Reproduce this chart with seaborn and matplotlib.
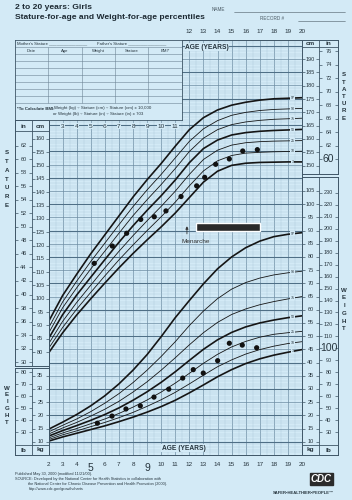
import matplotlib
matplotlib.use('Agg')
import numpy as np
import pandas as pd
import matplotlib.pyplot as plt
import seaborn as sns

# ======================================================================
# DATOS (CDC, 2 a 20 años, niñas)
# ======================================================================
ages = [2, 3, 4, 5, 6, 7, 8, 9, 10, 11, 12, 13, 14, 15, 16, 17, 18, 19, 20]
percentiles = ['3', '10', '25', '50', '75', '90', '97']

stature_p3 = [79.6, 87.2, 93.9, 100.0, 105.9, 111.6, 117.0, 122.1, 127.0, 132.2, 138.0, 143.8, 147.9, 150.1, 150.9, 151.2, 151.3, 151.4, 151.4]
stature_p10 = [81.3, 89.2, 96.1, 102.4, 108.6, 114.6, 120.2, 125.6, 130.8, 136.3, 142.4, 148.0, 151.8, 153.8, 154.7, 155.0, 155.2, 155.3, 155.4]
stature_p25 = [83.0, 91.5, 98.6, 105.1, 111.6, 117.8, 123.7, 129.3, 134.7, 140.4, 146.7, 152.3, 155.8, 157.7, 158.6, 159.0, 159.2, 159.3, 159.4]
stature_p50 = [85.0, 94.0, 101.4, 108.1, 114.7, 121.2, 127.4, 133.2, 138.7, 144.6, 151.1, 156.4, 159.6, 161.5, 162.4, 162.9, 163.2, 163.4, 163.6]
stature_p75 = [87.0, 96.6, 104.1, 111.2, 117.9, 124.6, 131.2, 137.2, 142.9, 148.9, 155.3, 160.3, 163.5, 165.4, 166.4, 167.0, 167.4, 167.6, 167.8]
stature_p90 = [89.0, 98.8, 106.6, 114.0, 120.9, 127.8, 134.6, 140.9, 146.7, 152.9, 159.1, 163.8, 166.9, 168.9, 170.0, 170.7, 171.1, 171.3, 171.5]
stature_p97 = [91.4, 101.2, 109.2, 116.9, 124.0, 131.1, 138.2, 144.7, 150.8, 157.3, 163.5, 168.0, 170.9, 172.7, 173.8, 174.6, 175.1, 175.3, 175.5]

weight_p3 = [10.2, 11.8, 13.2, 14.6, 16.0, 17.6, 19.3, 21.2, 23.3, 25.7, 28.5, 31.5, 34.6, 37.3, 39.6, 41.4, 42.8, 43.9, 44.9]
weight_p10 = [10.8, 12.6, 14.1, 15.7, 17.3, 19.1, 21.1, 23.4, 25.9, 28.7, 31.9, 35.2, 38.4, 41.0, 43.2, 44.9, 46.2, 47.2, 47.9]
weight_p25 = [11.4, 13.3, 15.0, 16.8, 18.6, 20.7, 23.1, 25.8, 28.8, 32.2, 35.9, 39.7, 43.1, 45.9, 48.0, 49.6, 50.7, 51.3, 51.8]
weight_p50 = [12.1, 14.2, 16.1, 18.1, 20.3, 22.8, 25.7, 28.9, 32.5, 36.5, 40.8, 45.0, 48.6, 51.4, 53.5, 55.0, 56.1, 57.0, 57.7]
weight_p75 = [12.9, 15.2, 17.3, 19.7, 22.3, 25.3, 28.8, 32.7, 37.1, 41.8, 46.7, 51.3, 55.2, 58.2, 60.3, 61.9, 63.1, 64.1, 65.0]
weight_p90 = [13.7, 16.2, 18.6, 21.4, 24.6, 28.2, 32.4, 37.1, 42.3, 47.9, 54.0, 59.5, 64.2, 67.8, 70.3, 72.0, 73.2, 74.0, 74.6]
weight_p97 = [14.7, 17.4, 20.3, 23.6, 27.4, 31.9, 37.1, 43.0, 49.8, 57.0, 63.5, 69.8, 75.5, 80.0, 83.5, 86.0, 87.7, 88.6, 89.2]

# Mediciones de la paciente
visit_age_stature = [5.25, 6.53, 7.55, 8.55, 9.51, 10.34, 11.41, 12.52, 13.09, 13.87, 14.84, 15.79, 16.83]
patient_stature = [113.3, 119.8, 124.6, 129.8, 130.8, 133.0, 138.4, 142.4, 145.6, 150.5, 152.5, 155.5, 156.0]
visit_age_weight = [5.47, 6.51, 7.50, 8.52, 9.49, 10.54, 11.53, 12.28, 12.99, 14.01, 14.84, 15.76, 16.78]
patient_weight = [17.0, 19.7, 22.4, 23.6, 26.9, 29.9, 34.1, 37.3, 36.0, 40.7, 47.3, 46.6, 45.6]

# Barra de menarquia (edad / estatura)
menarche_age = [12.5, 17.0]
menarche_cm = [125.6, 128.6]
menarche_arrow_age = 11.83

# Escalas laterales
inch_left = list(range(30, 63, 2))
cm_left = list(range(80, 161, 5))
lb_left = list(range(30, 81, 10))
kg_left = list(range(10, 36, 5))
cm_right = list(range(150, 191, 5))
inch_right = list(range(60, 77, 2))
kg_right = list(range(10, 106, 5))
lb_right = list(range(30, 231, 10))
bottom_ages = list(range(2, 21))
top_ages = list(range(12, 21))
inner_ages = list(range(3, 12))

stature_cols = [stature_p3, stature_p10, stature_p25, stature_p50, stature_p75, stature_p90, stature_p97]
weight_cols = [weight_p3, weight_p10, weight_p25, weight_p50, weight_p75, weight_p90, weight_p97]
df_st = pd.DataFrame({'age': ages * 7, 'cm': sum(stature_cols, []),
                      'pct': [p for p in percentiles for _ in ages]})
df_wt = pd.DataFrame({'age': ages * 7, 'kg': sum(weight_cols, []),
                      'pct': [p for p in percentiles for _ in ages]})

# ======================================================================
# ESTILO Y GEOMETRIA
# ======================================================================
sns.set_theme(style='white')
plt.rcParams['font.family'] = ['Liberation Sans', 'DejaVu Sans']

BG = '#d3eaf6'
GRID_THICK = '#4f6f86'
GRID_MAJOR = '#6d8ca2'
GRID_MINOR = '#a6c3d5'
EDGE = '#3e5566'
INK = '#151515'
TXT = '#26343d'

W, H = 352, 500


def fig_box(x0, y0, x1, y1):
    return [x0 / W, 1 - y1 / H, (x1 - x0) / W, (y1 - y0) / H]


def cm_at(y):
    return 160 - (y - 139) / 2.663


def kg_at(y):
    return 10 + (441.7 - y) / 2.639


def y_of_kg(kg):
    return 441.7 - (kg - 10) * 2.639


def ftext(x, y, s, **kw):
    kw.setdefault('color', TXT)
    fig.text(x / W, 1 - y / H, s, **kw)


fig = plt.figure(figsize=(W / 100, H / 100), dpi=100, facecolor=BG)

# ======================================================================
# AREA PRINCIPAL CON CUADRICULA
# ======================================================================
ax = fig.add_axes(fig_box(48.5, 40, 302, 455))
ax.set_facecolor(BG)
ax2 = ax.twinx()

thick = {'3', '50', '97'}
for p in percentiles:
    sub = df_st[df_st['pct'] == p]
    sns.lineplot(data=sub, x='age', y='cm', ax=ax, color=INK,
                 lw=1.2 if p in thick else 0.6, zorder=3)
    sub = df_wt[df_wt['pct'] == p]
    sns.lineplot(data=sub, x='age', y='kg', ax=ax2, color=INK,
                 lw=1.2 if p in thick else 0.6, zorder=3)

sns.scatterplot(x=visit_age_stature, y=patient_stature, ax=ax, color='#111111',
                s=14, edgecolor='none', zorder=5)
sns.scatterplot(x=visit_age_weight, y=patient_weight, ax=ax2, color='#111111',
                s=14, edgecolor='none', zorder=5)

# limites despues de dibujar (seaborn reajusta la escala)
ax.set_xlim(2, 20)
ax.set_ylim(cm_at(455), cm_at(40))
ax2.set_ylim(kg_at(455), kg_at(40))
ax.set_xlabel('')
ax.set_ylabel('')
ax2.set_ylabel('')

# la cuadricula comun sigue la escala de peso (1, 5 y 10 kg)
grid_units = np.arange(5, 163, 1)
ax.set_xticks(np.arange(2, 21, 1))
ax.set_xticks(np.arange(2, 20.01, 0.5), minor=True)
ax.set_yticks([cm_at(y_of_kg(u)) for u in grid_units if u % 5 == 0])
ax.set_yticks([cm_at(y_of_kg(u)) for u in grid_units if u % 5 != 0], minor=True)
ax.set_axisbelow(True)
ax.grid(which='major', color=GRID_MAJOR, lw=0.5)
ax.grid(which='minor', color=GRID_MINOR, lw=0.25)
ax.hlines([cm_at(y_of_kg(u)) for u in grid_units if u % 10 == 0], 2, 20,
          color=GRID_THICK, lw=0.8, zorder=1)
ax.tick_params(which='both', length=0, labelbottom=False, labelleft=False)
for s in ax.spines.values():
    s.set_color(EDGE)
    s.set_linewidth(0.7)
ax2.set_yticks([])
ax2.tick_params(which='both', length=0, labelright=False)
ax2.grid(False)
for s in ax2.spines.values():
    s.set_visible(False)

# etiquetas de percentil al final de cada curva
for p, vals in zip(percentiles, stature_cols):
    ax.text(19.35, np.interp(19.35, ages, vals), p, fontsize=2.6, ha='center', va='center',
            color=TXT, zorder=4, bbox=dict(fc=BG, ec='none', pad=0.25))
for p, vals in zip(percentiles, weight_cols):
    ax2.text(19.35, np.interp(19.35, ages, vals), p, fontsize=2.6, ha='center', va='center',
             color=TXT, zorder=4, bbox=dict(fc=BG, ec='none', pad=0.25))

ax.barh(y=np.mean(menarche_cm), width=menarche_age[1] - menarche_age[0], left=menarche_age[0],
        height=menarche_cm[1] - menarche_cm[0], color='#2a2a2a', zorder=4)
ax.annotate('', xy=(menarche_arrow_age, menarche_cm[1] - 0.3), xytext=(menarche_arrow_age, menarche_cm[0] - 2.3),
            arrowprops=dict(arrowstyle='-|>', color='#333333', lw=0.6, mutation_scale=4), zorder=4)
ax.text(menarche_arrow_age + 0.6, menarche_cm[0] - 4.2, 'Menarche', fontsize=4.6, ha='center',
        va='center', color='#333333', zorder=4)

# numeros de edad
xt = ax.get_xaxis_transform()
for a in bottom_ages:
    big = a in (5, 9)
    ax.text(a, -0.016 if not big else -0.02, str(a), transform=xt, ha='center', va='top',
            fontsize=7.5 if big else 4.6, color=TXT, clip_on=False)
for a in top_ages:
    ax.text(a, 1.0145, str(a), transform=xt, ha='center', va='bottom', fontsize=4.6,
            color=TXT, clip_on=False)
for a in inner_ages:
    ax.text(a, (455 - 126) / 415, str(a), transform=xt, ha='center', va='center', fontsize=4.6,
            color=TXT, zorder=4, bbox=dict(fc=BG, ec='none', pad=0.3))
ax.text(13.25, (455 - 47) / 415, 'AGE (YEARS)', transform=xt, ha='center', va='center',
        fontsize=4.8, weight='bold', color=TXT, zorder=4, bbox=dict(fc=BG, ec='none', pad=0.4))
ax.text(11.6, (455 - 448) / 415, 'AGE (YEARS)', transform=xt, ha='center', va='center',
        fontsize=4.8, weight='bold', color=TXT, zorder=4, bbox=dict(fc=BG, ec='none', pad=0.4))


# ======================================================================
# COLUMNAS LATERALES
# ======================================================================
def side_col(box, lim, split):
    a = fig.add_axes(fig_box(*box))
    a.set_facecolor(BG)
    a.set_xlim(0, 1)
    a.set_ylim(*lim)
    a.set_xticks([])
    a.set_yticks([])
    for s in a.spines.values():
        s.set_color(EDGE)
        s.set_linewidth(0.7)
    a.axvline(split, color=EDGE, lw=0.6)
    return a


def col_labels(a, positions, labels, x0, x1, big=None):
    xc = (x0 + x1) / 2
    d = (x1 - x0) * 0.16
    for pos, lab in zip(positions, labels):
        fs = 7.5 if lab == big else 4.0
        a.text(xc, pos, str(lab), fontsize=fs, ha='center', va='center', color=TXT)
        a.hlines([pos, pos], [x0, x1 - d], [x0 + d, x1], color=EDGE, lw=0.5)


# izquierda: estatura
axLs = side_col((15, 120, 48.5, 366), (cm_at(366), cm_at(120)), 0.51)
col_labels(axLs, [v * 2.54 for v in inch_left], inch_left, 0, 0.51)
col_labels(axLs, cm_left, cm_left, 0.51, 1)
axLs.axhline(cm_at(131), color=EDGE, lw=0.6)
axLs.text(0.26, cm_at(126), 'in', fontsize=4.6, weight='bold', ha='center', va='center', color=TXT)
axLs.text(0.76, cm_at(126), 'cm', fontsize=4.6, weight='bold', ha='center', va='center', color=TXT)

# izquierda: peso
axLw = side_col((15, 368, 48.5, 455), (kg_at(455), kg_at(368)), 0.51)
col_labels(axLw, [v * 0.4536 for v in lb_left], lb_left, 0, 0.51)
col_labels(axLw, kg_left, kg_left, 0.51, 1)
axLw.axhline(kg_at(445), color=EDGE, lw=0.6)
axLw.text(0.26, kg_at(450), 'lb', fontsize=4.6, weight='bold', ha='center', va='center', color=TXT)
axLw.text(0.76, kg_at(450), 'kg', fontsize=4.6, weight='bold', ha='center', va='center', color=TXT)

# derecha: estatura
axRs = side_col((302, 40, 338, 174), (cm_at(174), cm_at(40)), 0.47)
col_labels(axRs, cm_right, cm_right, 0, 0.47)
col_labels(axRs, [v * 2.54 for v in inch_right], inch_right, 0.47, 1, big=60)
axRs.axhline(cm_at(47), color=EDGE, lw=0.6)
axRs.text(0.235, cm_at(43.5), 'cm', fontsize=4.6, weight='bold', ha='center', va='center', color=TXT)
axRs.text(0.735, cm_at(43.5), 'in', fontsize=4.6, weight='bold', ha='center', va='center', color=TXT)

# derecha: peso
axRw = side_col((302, 177, 338, 455), (kg_at(455), kg_at(177)), 0.47)
col_labels(axRw, kg_right, kg_right, 0, 0.47)
col_labels(axRw, [v * 0.4536 for v in lb_right], lb_right, 0.47, 1, big=100)
axRw.axhline(kg_at(445), color=EDGE, lw=0.6)
axRw.text(0.235, kg_at(450), 'kg', fontsize=4.6, weight='bold', ha='center', va='center', color=TXT)
axRw.text(0.735, kg_at(450), 'lb', fontsize=4.6, weight='bold', ha='center', va='center', color=TXT)

# letras verticales
for word, x, y0, step in [('STATURE', 7, 153, 8.7), ('WEIGHT', 7, 388, 6.8),
                          ('STATURE', 344, 75, 7.2), ('WEIGHT', 344, 290, 7.8)]:
    for i, ch in enumerate(word):
        ftext(x, y0 + i * step, ch, fontsize=4.4, weight='bold', ha='center', va='center')

# ======================================================================
# TABLA SUPERIOR IZQUIERDA
# ======================================================================
axT = fig.add_axes(fig_box(15, 40, 182, 120))
axT.set_zorder(6)
axT.set_facecolor(BG)
axT.set_xlim(15, 182)
axT.set_ylim(120, 40)
axT.set_xticks([])
axT.set_yticks([])
for s in axT.spines.values():
    s.set_color(EDGE)
    s.set_linewidth(0.6)
row_lines = [47, 54, 61, 68, 75, 82, 89, 96, 103]
col_lines = [48.3, 81.7, 115, 148.3]
axT.hlines(row_lines, 15, 182, color='#6d8595', lw=0.4)
axT.vlines(col_lines, 47, 103, color='#6d8595', lw=0.4)
axT.text(17, 43.8, "Mother's Stature ________________", fontsize=3.1, va='center', color=TXT)
axT.text(97, 43.8, "Father's Stature ________________", fontsize=3.1, va='center', color=TXT)
for xc, lab in zip([31.6, 65, 98.3, 131.6, 165], ['Date', 'Age', 'Weight', 'Stature', 'BMI*']):
    axT.text(xc, 50.6, lab, fontsize=3.1, ha='center', va='center', color=TXT)
axT.text(17, 108.5, '*To Calculate BMI:', fontsize=3.2, weight='bold', va='center', color=TXT)
axT.text(54, 108.5, 'Weight (kg) ÷ Stature (cm) ÷ Stature (cm) x 10,000', fontsize=3.2,
         va='center', color=TXT)
axT.text(98, 114.5, 'or Weight (lb) ÷ Stature (in) ÷ Stature (in) x 703', fontsize=3.2,
         ha='center', va='center', color=TXT)

# ======================================================================
# TITULOS Y PIE
# ======================================================================
ftext(15, 7.5, '2 to 20 years: Girls', fontsize=6.1, weight='bold', va='center', color='#1d2a33')
ftext(15, 17.5, 'Stature-for-age and Weight-for-age percentiles', fontsize=6.1, weight='bold',
      va='center', color='#1d2a33')
ftext(212, 9.5, 'NAME', fontsize=3.3, va='center', color='#4a5a64')
fig.add_artist(plt.Line2D([234 / W, 345 / W], [1 - 11.5 / H, 1 - 11.5 / H], color='#4a5a64', lw=0.4))
ftext(260, 19, 'RECORD #', fontsize=3.3, va='center', color='#4a5a64')
fig.add_artist(plt.Line2D([298 / W, 345 / W], [1 - 21 / H, 1 - 21 / H], color='#4a5a64', lw=0.4))

footer = ['Published May 30, 2000 (modified 11/21/00).',
          'SOURCE: Developed by the National Center for Health Statistics in collaboration with',
          'the National Center for Chronic Disease Prevention and Health Promotion (2000).',
          'http://www.cdc.gov/growthcharts']
for i, (line, y) in enumerate(zip(footer, [474, 479, 484, 489])):
    ftext(15 if i < 2 else 28.5, y, line, fontsize=2.8, va='center')

ftext(321.5, 479, 'CDC', fontsize=7, weight='bold', style='italic', ha='center', va='center',
      color='white', bbox=dict(fc='#2b2b2b', ec='#2b2b2b', boxstyle='square,pad=0.15'))
ftext(303, 493, 'SAFER\u2022HEALTHIER\u2022PEOPLE\u2122', fontsize=3.0, weight='bold',
      ha='center', va='center')

fig.savefig('out.png', dpi=100, facecolor=BG)
plt.close(fig)
